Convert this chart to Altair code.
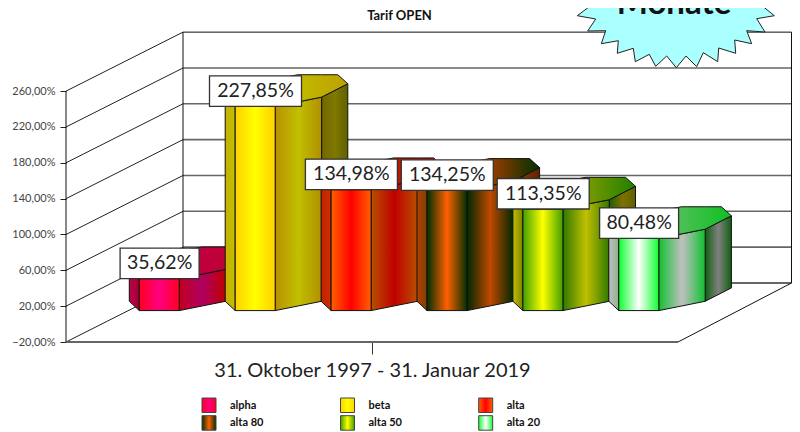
import altair as alt
import numpy as np
import pandas as pd

# ---- data
series = ["alpha", "beta", "alta", "alta 80", "alta 50", "alta 20"]
values = [35.62, 227.85, 134.98, 134.25, 113.35, 80.48]
labels = ["35,62%", "227,85%", "134,98%", "134,25%", "113,35%", "80,48%"]
ticks = [-20, 20, 60, 100, 140, 180, 220, 260]
x_caption = "31. Oktober 1997 - 31. Januar 2019"
chart_title = "Tarif OPEN"
badge_text = "Monate"

left_cols = [["#c00050", "#a00030"], ["#c8b000", "#c0c000"], ["#c02000", "#d03000"],
             ["#b04000", "#804000"], ["#c0c000", "#808000"], ["#c0c0c0", "#90b090"]]
front_cols = [["#ff0020", "#ff0080", "#ff0020"], ["#ffd000", "#ffff00", "#ffd000"],
              ["#ff6000", "#ff0000", "#ff6000"], ["#003000", "#ff6000", "#003000"],
              ["#40a000", "#ffff00", "#40a000"], ["#10ff30", "#ffffff", "#10ff30"]]
right_cols = [["#c00020", "#b00060", "#c00000"], ["#b89000", "#c0c000", "#b09000"],
              ["#b85000", "#c00000", "#b85000"], ["#002800", "#c04800", "#002800"],
              ["#307800", "#c0c000", "#307800"], ["#10c030", "#c0c0c0", "#10c030"]]
back_cols = [["#c00020", "#c00000"], ["#706800", "#807800", "#606000"],
             ["#b04000", "#800000", "#804000"], ["#003000", "#803000", "#602000"],
             ["#206000", "#807000", "#606000"], ["#106010", "#808080", "#106010"]]
top_cols = [["#c00050", "#c00030"], ["#c0a000", "#c0c000", "#c0a000"],
            ["#c04000", "#c00000"], ["#804000", "#c04000", "#003000"],
            ["#a0a000", "#90a000", "#208000"], ["#a0c0a0", "#10c020"]]

# star outline of the badge (page-like units, converted below)
star_x = [571.7, 589.3, 577.3, 595.7, 587.7, 605.7, 601.3, 618.3, 617.3, 633.3, 635.3, 649.3, 655.7, 666.7,
          676.3, 686, 696.7, 703.3, 717.7, 718.7, 735.7, 734.7, 751.7, 746.7, 765, 756.7, 774.3, 763.3, 780.7,
          780.7, 571.7, 571.7]
star_y = [1.7, 6.7, 15.7, 19, 31, 30.7, 43.7, 40.7, 53.3, 48.3, 61.7, 54.3, 66.3, 56,
          67.7, 56, 66.7, 52.7, 61.7, 48, 53.3, 40, 43.7, 30.7, 32, 18.7, 15.7, 6.7, 0,
          -30, -30, 1.7]

# ---- projection constants
PX = 310 / 346.0            # pixels per percent unit
YMIN, YMAX = -20, 326
W, H = 725.5, 310           # right wall end (kept inside the drawable page)
FLOOR_R = 612               # right end of the front floor edge
BOX_W = 718
DEPTH_X, DEPTH_Y = 117, 59 / PX          # wall depth
BAR_LIFT = 13.5 / PX                     # bars stand inside the floor
BAR0, STEP = 73.3, 95.9
FONT = "Lato"

xs = alt.Scale(domain=[0, BOX_W], nice=False, zero=False)
ys = alt.Scale(domain=[YMIN, YMAX], nice=False, zero=False)

xaxis = alt.Axis(
    values=[306], domain=False, grid=False, tickSize=12, tickColor="#333333", title=None,
    labelExpr="'%s'" % x_caption, labelFont=FONT, labelFontSize=20, labelColor="#222222",
    labelPadding=6, labelBaseline="top", labelLimit=700)
yaxis = alt.Axis(
    values=ticks, domain=False, grid=False, tickSize=6, tickColor="#222222", title=None,
    labelExpr="replace(format(datum.value,'.2f'),'.',',')+'%'",
    labelFont=FONT, labelFontSize=11, labelColor="#444444", labelPadding=5)


def grad(cols):
    n = len(cols) - 1
    return alt.LinearGradient(gradient="linear", x1=0, x2=1, y1=0, y2=0,
                              stops=[alt.GradientStop(color=c, offset=i / n) for i, c in enumerate(cols)])


def X(f="x:Q"):
    return alt.X(f, scale=xs, axis=xaxis)


def Y(f="y:Q"):
    return alt.Y(f, scale=ys, axis=yaxis)


def rules(rows, color, width):
    df = pd.DataFrame(rows, columns=["x", "y", "x2", "y2"])
    return alt.Chart(df).mark_rule(color=color, strokeWidth=width).encode(
        x=X(), y=Y(), x2="x2:Q", y2="y2:Q")


layers = []

# walls and floor
layers.append(rules([[0, v, DEPTH_X, v + DEPTH_Y] for v in ticks], "#222222", 1))
layers.append(rules([[DEPTH_X, v + DEPTH_Y, W, v + DEPTH_Y] for v in ticks[1:-1]], "#666666", 1.6))
layers.append(rules([[DEPTH_X, ticks[-1] + DEPTH_Y, W, ticks[-1] + DEPTH_Y]], "#111111", 1))
layers.append(rules([[DEPTH_X, ticks[0] + DEPTH_Y, W, ticks[0] + DEPTH_Y],
                     [0, ticks[0], FLOOR_R, ticks[0]]], "#666666", 2))
layers.append(rules([[0, ticks[0], 0, ticks[-1]],
                     [DEPTH_X, ticks[0] + DEPTH_Y, DEPTH_X, ticks[-1] + DEPTH_Y],
                     [W, ticks[0] + DEPTH_Y, W, ticks[-1] + DEPTH_Y],
                     [FLOOR_R, ticks[0], W, ticks[0] + DEPTH_Y]], "#111111", 1))

# badge
star_df = pd.DataFrame({"x": [p - 66 for p in star_x],
                        "y": [(342 - p) / PX + YMIN for p in star_y],
                        "i": range(len(star_x))})
layers.append(alt.Chart(star_df).mark_line(fill="#aaffff", stroke="#222222", strokeWidth=1).encode(
    x=X(), y=Y(), order="i:Q"))
layers.append(alt.Chart(pd.DataFrame({"t": [badge_text]})).mark_text(
    font=FONT, fontWeight="bold", fontSize=33, color="#111111", align="center", baseline="alphabetic"
).encode(x=alt.value(674 - 66), y=alt.value(14 - 32), text="t:N"))
layers.append(alt.Chart(pd.DataFrame({"t": [chart_title]})).mark_text(
    font=FONT, fontWeight="bold", fontSize=13, color="#111111", align="center", baseline="alphabetic"
).encode(x=alt.value(399.5 - 66), y=alt.value(20 - 32), text="t:N"))


def face(x0, x1, yb0, yb1, yt0, yt1, cols):
    df = pd.DataFrame({"x": [x0, x1], "y": [yt0, yt1], "y2": [yb0, yb1]})
    return alt.Chart(df).mark_area(color=grad(cols), stroke="#111111", strokeWidth=1, interpolate="linear").encode(
        x=X(), y=Y(), y2="y2:Q")


# octagonal columns, offsets in pixels turned into axis units
for i, v in enumerate(values):
    x0 = BAR0 + i * STEP
    base = BAR_LIFT
    top = v + BAR_LIFT
    r1, r2 = 9.3 / PX, 22.7 / PX
    layers.append(face(x0 + 86.4, x0 + 112.6, base + r1, base + r2, top + r1, top + r2, back_cols[i]))
    layers.append(face(x0 + 40, x0 + 86.4, base, base + r1, top, top + r1, right_cols[i]))
    layers.append(face(x0 - 10, x0, base + r1, base, top + r1, top, left_cols[i]))
    layers.append(face(x0, x0 + 40, base, base, top, top, front_cols[i]))
    ux = np.array([-10, 16.2, 62.5, 102.6, 112.6])
    uy = np.array([9.3, 22.4, 31.7, 31.7, 22.7]) / PX
    lx = np.array([-10, 0, 40, 86.4, 112.6])
    ly = np.array([9.3, 0, 0, 9.3, 22.7]) / PX
    bx = np.unique(np.concatenate([ux, lx]))
    cap = pd.DataFrame({"x": x0 + bx, "y": top + np.interp(bx, ux, uy), "y2": top + np.interp(bx, lx, ly)})
    layers.append(alt.Chart(cap).mark_area(color=grad(top_cols[i]), stroke="#111111", strokeWidth=1).encode(
        x=X(), y=Y(), y2="y2:Q"))

# value boxes
box_h = 30.5 / PX
box = pd.DataFrame({
    "x": [BAR0 + i * STEP + 20.3 - (13 * len(t) + 1) / 2 for i, t in enumerate(labels)],
    "x2": [BAR0 + i * STEP + 20.3 + (13 * len(t) + 1) / 2 for i, t in enumerate(labels)],
    "y": [v + BAR_LIFT for v in values],
    "y2": [v + BAR_LIFT + box_h for v in values],
    "ym": [v + BAR_LIFT + box_h / 2 for v in values],
    "xm": [BAR0 + i * STEP + 20.3 for i in range(len(labels))],
    "t": labels,
})
layers.append(alt.Chart(box).mark_rect(fill="white", stroke="#333333", strokeWidth=1.3).encode(
    x=X(), x2="x2:Q", y=Y(), y2="y2:Q"))
layers.append(alt.Chart(box).mark_text(font=FONT, fontSize=19.5, color="#222222", align="center", baseline="middle").encode(
    x=X("xm:Q"), y=Y("ym:Q"), text="t:N"))

# legend
leg_x = [202, 340.5, 478.7]
leg_y = [398, 415.7]
for i, name in enumerate(series):
    lx0 = leg_x[i % 3] - 66
    ly0 = leg_y[i // 3] - 32
    layers.append(alt.Chart(pd.DataFrame({"k": [name]})).mark_rect(
        color=grad(front_cols[i]), stroke="#444444", strokeWidth=1).encode(
        x=alt.value(lx0), x2=alt.value(lx0 + 14), y=alt.value(ly0), y2=alt.value(ly0 + 14.5)))
    layers.append(alt.Chart(pd.DataFrame({"k": [name]})).mark_text(
        font=FONT, fontWeight="bold", fontSize=11, color="#111111", align="left", baseline="middle").encode(
        x=alt.value(lx0 + 28), y=alt.value(ly0 + 7.5), text="k:N"))

chart = alt.layer(*layers).properties(
    width=BOX_W, height=H,
    padding={"left": 58, "top": 24, "right": 8, "bottom": 90},
    autosize=alt.AutoSizeParams(type="none"),
).configure_view(stroke=None)

chart.save("out.html", embed_options={"renderer": "svg", "actions": False})
